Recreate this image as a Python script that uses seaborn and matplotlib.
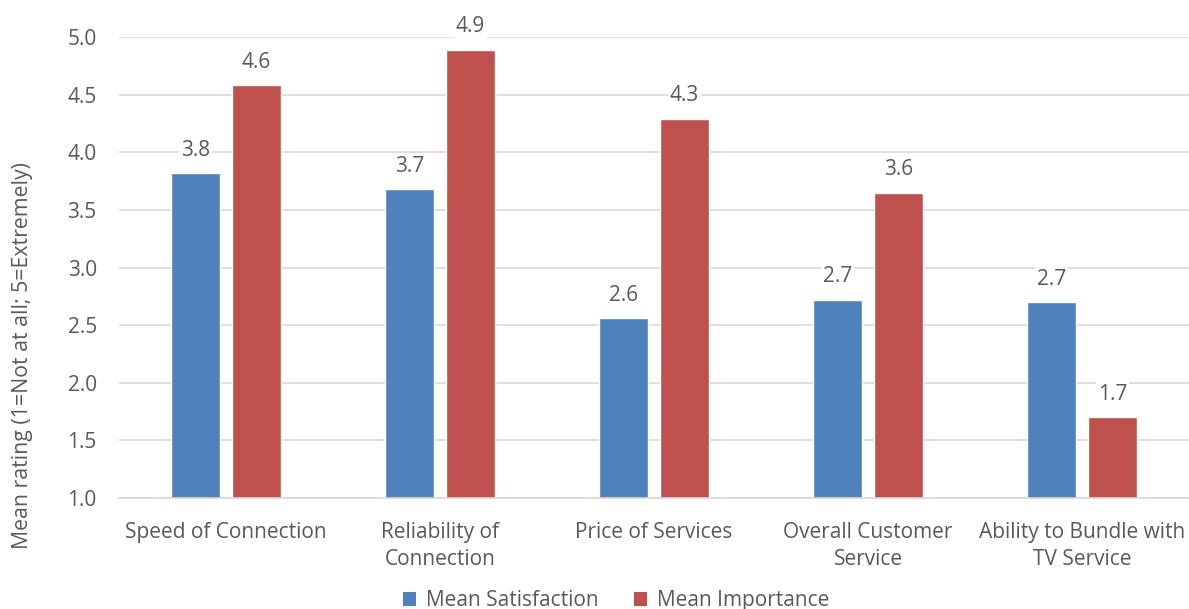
import pandas as pd
import matplotlib.pyplot as plt
import seaborn as sns
from matplotlib.patches import Patch

categories = ['Speed of Connection', 'Reliability of\nConnection', 'Price of Services',
              'Overall Customer\nService', 'Ability to Bundle with\nTV Service']
satisfaction = [3.82, 3.68, 2.56, 2.72, 2.70]
importance = [4.58, 4.89, 4.29, 3.65, 1.70]
series = ['Mean Satisfaction', 'Mean Importance']
colors = ['#4F81BD', '#C0504D']

df = pd.DataFrame({
    'category': categories * 2,
    'series': [series[0]] * len(categories) + [series[1]] * len(categories),
    'value': satisfaction + importance,
})

sns.set_theme(style='white')
plt.rcParams['font.family'] = ['Open Sans', 'DejaVu Sans']
text_color = '#595959'
fs = 15

fig = plt.figure(figsize=(11.89, 6.09), dpi=100)
ax = fig.add_axes([0.1001, 0.1823, 0.8999, 0.7569])

sns.barplot(data=df, x='category', y='value', hue='series', order=categories,
            hue_order=series, palette=colors, width=0.57, gap=0.21,
            saturation=1, ax=ax, legend=False)

# Excel-style value labels with white boxes over the gridlines
for container in ax.containers:
    labels = ax.bar_label(container, fmt='%.1f', padding=9, fontsize=fs,
                          color=text_color)
    for t in labels:
        t.set_bbox(dict(facecolor='white', edgecolor='none', pad=1.5))
        t.set_clip_on(False)

ax.set_ylim(1.0, 5.0)
ax.set_yticks([1.0, 1.5, 2.0, 2.5, 3.0, 3.5, 4.0, 4.5, 5.0])
ax.set_yticklabels([f'{v:.1f}' for v in ax.get_yticks()])
ax.yaxis.grid(True, color='#d9d9d9', linewidth=1.2)
ax.set_axisbelow(True)
for side in ['top', 'right', 'left']:
    ax.spines[side].set_visible(False)
ax.spines['bottom'].set_color('#d9d9d9')
ax.spines['bottom'].set_linewidth(1.2)

ax.tick_params(axis='y', length=0, pad=16, labelsize=fs, labelcolor=text_color)
ax.tick_params(axis='x', length=0, pad=17, labelsize=fs, labelcolor=text_color)
for lbl in ax.get_xticklabels():
    lbl.set_linespacing(1.4)
ax.set_xlabel('')
ax.set_ylabel('Mean rating (1=Not at all; 5=Extremely)', fontsize=15.3,
              color=text_color)
ax.yaxis.set_label_coords(-0.080, 0.31)

handles = [Patch(facecolor=c, edgecolor='none') for c in colors]
fig.legend(handles, series, loc='lower center', bbox_to_anchor=(0.518, -0.034),
           ncol=2, frameon=False, fontsize=fs, labelcolor=text_color,
           handlelength=0.65, handleheight=0.65, handletextpad=0.45,
           columnspacing=1.7)

fig.savefig('out.png', dpi=100)
